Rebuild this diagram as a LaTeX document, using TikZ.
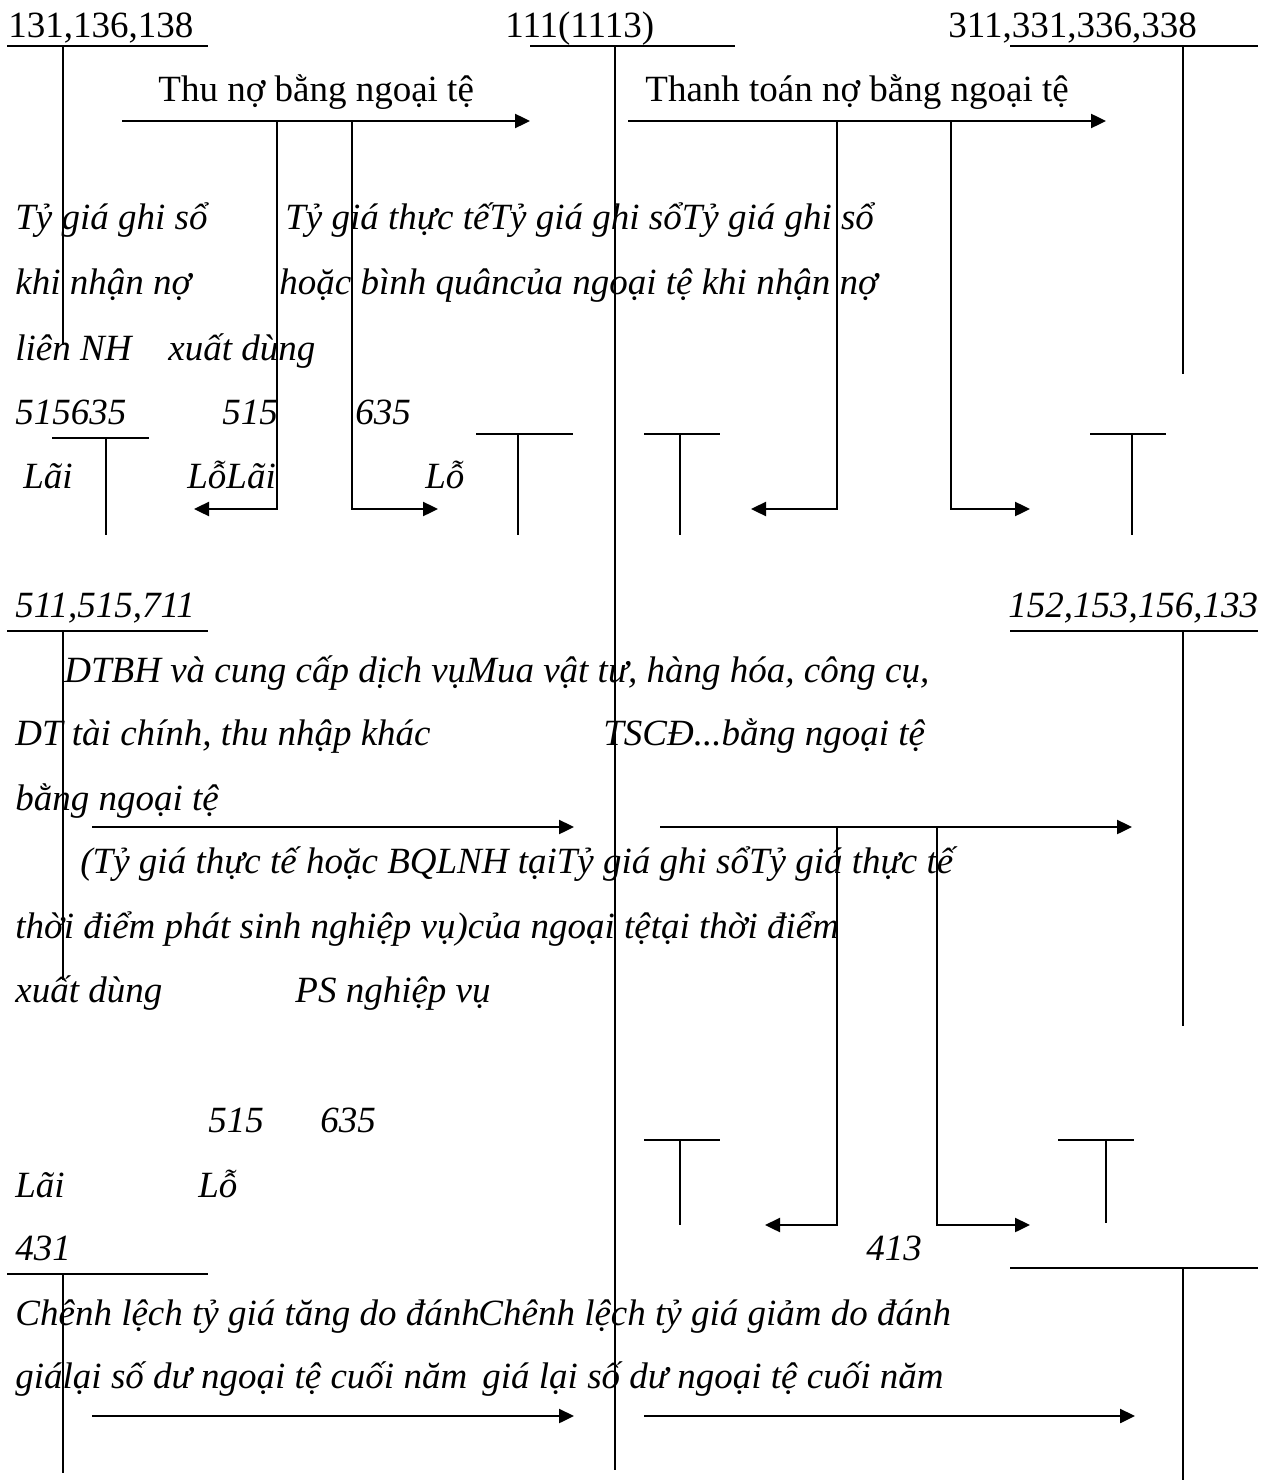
\documentclass[tikz,border=0pt]{standalone}
\usepackage{fontspec}
\setmainfont{Liberation Serif}
\usetikzlibrary{arrows.meta}

\begin{document}
\begin{tikzpicture}[
        x=0.5pt, y=-0.5pt,
        txt/.style={anchor=base west, inner sep=0pt, font=\fontsize{18.5}{22}\selectfont},
        itxt/.style={txt, font=\fontsize{18.5}{22}\selectfont\itshape},
        acc/.style={line width=0.8pt},
        arr/.style={-{Triangle[length=7.5pt, width=7pt]}, line width=1.2pt},
        larr/.style={line width=1.2pt}
    ]
    \useasboundingbox (0,0) rectangle (1277,1482);

    % tai khoan phia tren
    \node[txt] (tk131) at (8,38) {131,136,138};
    \node[txt] (tk111) at (505,38) {111(1113)};
    \node[txt] (tk311) at (948,38) {311,331,336,338};
    \draw[acc] (7,46) -- (208,46) (63,46) -- (63,345);
    \draw[acc] (530,46) -- (735,46) (615,46) -- (615,1470);
    \draw[acc] (1010,46) -- (1258,46) (1183,46) -- (1183,374);

    \node[txt] (thuno) at (158,102) {Thu nợ bằng ngoại tệ};
    \node[txt] (ttno) at (645,102) {Thanh toán nợ bằng ngoại tệ};
    \draw[arr] (122,121) -- (530,121);
    \draw[arr] (628,121) -- (1106,121);
    \draw[arr] (277,121) -- (277,509) -- (194,509);
    \draw[arr] (352,121) -- (352,509) -- (438,509);
    \draw[arr] (837,121) -- (837,509) -- (751,509);
    \draw[arr] (951,121) -- (951,509) -- (1030,509);

    \node[itxt] (a1) at (15,230) {Tỷ giá ghi sổ};
    \node[itxt] (a2) at (285,230) {Tỷ giá thực tếTỷ giá ghi sổTỷ giá ghi sổ};
    \node[itxt] (b1) at (15,294) {khi nhận nợ};
    \node[itxt] (b2) at (279,294) {hoặc bình quâncủa ngoại tệ khi nhận nợ};
    \node[itxt] (c1) at (15,360) {liên NH};
    \node[itxt] (c2) at (168,360) {xuất dùng};
    \node[itxt] (d1) at (15,424) {515635};
    \node[itxt] (d2) at (222,424) {515};
    \node[itxt] (d3) at (355,424) {635};
    \node[itxt] (e1) at (23,488) {Lãi};
    \node[itxt] (e2) at (187,488) {LỗLãi};
    \node[itxt] (e3) at (425,488) {Lỗ};

    % chu T nho
    \draw[acc] (52,438) -- (149,438) (106,438) -- (106,535);
    \draw[acc] (476,434) -- (573,434) (518,434) -- (518,535);
    \draw[acc] (644,434) -- (720,434) (680,434) -- (680,535);
    \draw[acc] (1090,434) -- (1166,434) (1132,434) -- (1132,535);

    % tai khoan o giua
    \node[itxt] (tk511) at (15,617) {511,515,711};
    \node[itxt] (tk152) at (1008,617) {152,153,156,133};
    \draw[acc] (7,631) -- (208,631) (63,631) -- (63,980);
    \draw[acc] (1010,631) -- (1258,631) (1183,631) -- (1183,1026);

    \node[itxt] (f1) at (64,682) {DTBH và cung cấp dịch vụMua vật tư, hàng hóa, công cụ,};
    \node[itxt] (g1) at (15,745) {DT tài chính, thu nhập khác};
    \node[itxt] (g2) at (603,745) {TSCĐ...bằng ngoại tệ};
    \node[itxt] (h1) at (15,810) {bằng ngoại tệ};
    \draw[arr] (92,827) -- (574,827);
    \draw[arr] (660,827) -- (1132,827);
    \draw[arr] (837,827) -- (837,1225) -- (765,1225);
    \draw[arr] (937,827) -- (937,1225) -- (1030,1225);

    \node[itxt] (i1) at (80,873) {(Tỷ giá thực tế hoặc BQLNH tạiTỷ giá ghi sổTỷ giá thực tế};
    \node[itxt] (j1) at (15,938) {thời điểm phát sinh nghiệp vụ)của ngoại tệtại thời điểm};
    \node[itxt] (k1) at (15,1002) {xuất dùng};
    \node[itxt] (k2) at (295,1002) {PS nghiệp vụ};
    \node[itxt] (l1) at (208,1132) {515};
    \node[itxt] (l2) at (320,1132) {635};
    \node[itxt] (m1) at (15,1197) {Lãi};
    \node[itxt] (m2) at (198,1197) {Lỗ};
    \draw[acc] (644,1140) -- (720,1140) (680,1140) -- (680,1225);
    \draw[acc] (1058,1140) -- (1134,1140) (1106,1140) -- (1106,1223);

    % tai khoan phia duoi
    \node[itxt] (tk431) at (15,1260) {431};
    \node[itxt] (tk413) at (866,1260) {413};
    \draw[acc] (7,1274) -- (208,1274) (63,1274) -- (63,1473);
    \draw[acc] (1010,1268) -- (1258,1268) (1183,1268) -- (1183,1480);

    \node[itxt] (n1) at (15,1325) {Chênh lệch tỷ giá tăng do đánh};
    \node[itxt] (n2) at (478,1325) {Chênh lệch tỷ giá giảm do đánh};
    \node[itxt] (o1) at (15,1388) {giálại số dư ngoại tệ cuối năm};
    \node[itxt] (o2) at (482,1388) {giá lại số dư ngoại tệ cuối năm};
    \draw[arr] (92,1416) -- (574,1416);
    \draw[arr] (644,1416) -- (1135,1416);
\end{tikzpicture}
\end{document}
